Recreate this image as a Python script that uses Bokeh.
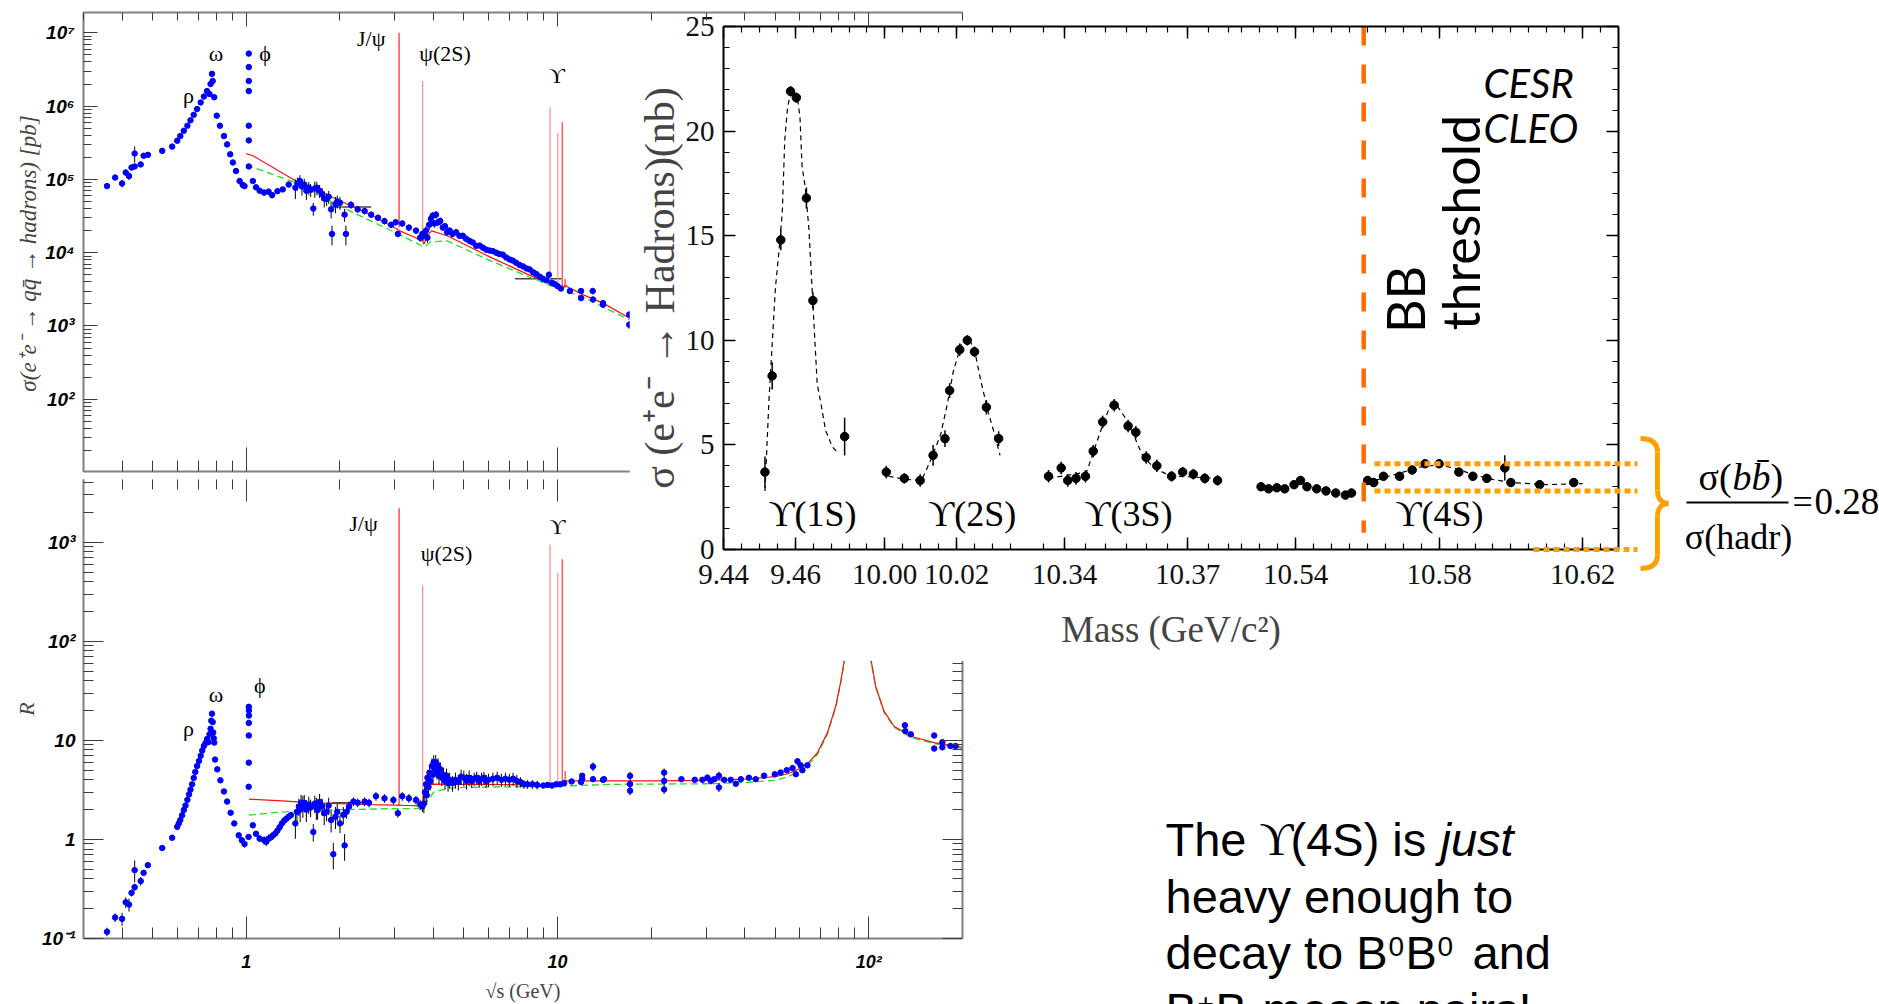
import math
from bokeh.plotting import figure
from bokeh.models import Range1d, FixedTicker, LogAxis, LinearAxis, BasicTickFormatter
from bokeh.layouts import column
from bokeh.embed import file_html
from bokeh.resources import INLINE
from bokeh.core.properties import value

SERIF = "Liberation Serif"
SANS = "Liberation Sans"

# =====================================================================
# DATA - bottom-left panel : R vs sqrt(s) [GeV]
# =====================================================================
R_LOW_X = [0.357, 0.379, 0.399, 0.41, 0.42, 0.428, 0.438, 0.438, 0.458, 0.468, 0.483,
           0.537, 0.578, 0.60, 0.607, 0.614, 0.622, 0.63, 0.638, 0.647, 0.655, 0.662,
           0.67, 0.678, 0.686, 0.695, 0.705, 0.714, 0.722, 0.731, 0.74, 0.748, 0.755,
           0.762, 0.768, 0.772, 0.776, 0.78, 0.783, 0.786, 0.789, 0.794, 0.807, 0.826,
           0.848, 0.868, 0.891, 0.915, 0.946, 0.968, 0.987]
R_LOW_Y = [0.117, 0.163, 0.158, 0.232, 0.22, 0.289, 0.33, 0.49, 0.38, 0.46, 0.55,
           0.82, 1.04, 1.34, 1.45, 1.57, 1.75, 1.98, 2.2, 2.51, 2.85, 3.18,
           3.6, 4.18, 4.8, 5.5, 6.2, 7.0, 7.9, 8.8, 9.4, 10.3, 9.6,
           11.5, 13.1, 15.8, 18.6, 15.3, 12.0, 10.5, 9.5, 6.4, 5.1, 3.95,
           3.05, 2.41, 1.86, 1.45, 1.1, 0.98, 0.90]
R_LOW_ERR = [0.1, 0.1, 0.15, 0.12, 0.15, 0.08, 0.08, 0.25, 0.1, 0.06, 0.06,
             0.03, 0.03, 0.03, 0.02, 0.02, 0.02, 0.02, 0.02, 0.02, 0.02, 0.02,
             0.02, 0.02, 0.02, 0.02, 0.02, 0.02, 0.02, 0.02, 0.02, 0.02, 0.02,
             0.02, 0.02, 0.02, 0.02, 0.02, 0.02, 0.02, 0.02, 0.03, 0.03, 0.03,
             0.03, 0.03, 0.03, 0.04, 0.05, 0.06, 0.08]

R_PHI_X = [1.017, 1.018, 1.019, 1.019, 1.019, 1.02, 1.019, 1.02]
R_PHI_Y = [1.06, 3.4, 5.96, 11.2, 15.0, 17.8, 21.8, 20.0]

R_MID_X = [1.05, 1.075, 1.104, 1.141, 1.16, 1.18, 1.2, 1.219, 1.24, 1.26,
           1.28, 1.302, 1.325, 1.346, 1.37, 1.391, 1.438, 1.455, 1.476, 1.49,
           1.5, 1.52, 1.536, 1.56, 1.588, 1.61, 1.642, 1.66, 1.68, 1.696,
           1.72, 1.753, 1.78, 1.812, 1.84, 1.873, 1.904, 1.935, 1.96, 2.0,
           2.05, 2.07, 2.1, 2.14, 2.21, 2.28, 2.4, 2.48, 2.61, 2.78,
           2.97, 3.07, 3.17, 3.33, 3.51, 3.62, 3.68]
R_MID_Y = [1.39, 1.14, 1.02, 0.98, 0.95, 1.02, 1.05, 1.1, 1.15, 1.23,
           1.33, 1.45, 1.55, 1.62, 1.7, 1.76, 1.45, 1.9, 2.15, 2.0,
           2.35, 2.2, 2.34, 2.0, 2.25, 2.1, 1.19, 2.3, 2.1, 1.98,
           2.4, 2.15, 1.85, 1.91, 2.2, 1.57, 0.71, 1.70, 1.9, 1.45,
           1.77, 0.87, 1.9, 2.15, 2.41, 2.35, 2.41, 2.34, 2.73, 2.6,
           2.5, 1.84, 2.73, 2.6, 2.5, 2.25, 2.15]
R_MID_ERR = [0.05, 0.05, 0.08, 0.1, 0.1, 0.1, 0.08, 0.08, 0.08, 0.08,
             0.08, 0.08, 0.08, 0.08, 0.08, 0.08, 0.3, 0.2, 0.2, 0.25,
             0.2, 0.25, 0.2, 0.25, 0.2, 0.2, 0.2, 0.2, 0.25, 0.2,
             0.2, 0.2, 0.25, 0.2, 0.2, 0.25, 0.3, 0.25, 0.2, 0.2,
             0.2, 0.3, 0.15, 0.12, 0.1, 0.1, 0.1, 0.1, 0.1, 0.1,
             0.1, 0.1, 0.1, 0.1, 0.1, 0.12, 0.12]

R_CC_X = [3.72, 3.75, 3.78, 3.80, 3.82, 3.85, 3.88, 3.90, 3.95, 3.98,
          4.00, 4.03, 4.06, 4.10, 4.13, 4.16, 4.20, 4.25, 4.30, 4.35,
          4.40, 4.45, 4.50, 4.60, 4.70, 4.80, 4.90, 5.00, 5.10, 5.20,
          5.30, 5.40, 5.50, 5.60, 5.70, 5.80, 5.90, 6.00, 6.20, 6.40,
          6.60, 6.80, 7.00, 7.20, 7.40, 7.60, 7.80, 8.00, 8.30, 8.60,
          9.00, 9.30, 9.60, 9.90, 10.2, 10.5]
R_CC_Y = [2.3, 3.0, 3.6, 2.8, 4.2, 3.4, 4.7, 3.9, 5.5, 4.5,
          6.0, 5.2, 6.0, 4.9, 5.6, 4.4, 5.1, 4.2, 4.5, 3.9,
          4.4, 3.7, 4.0, 3.7, 4.0, 3.8, 4.3, 4.2, 3.9, 4.2,
          3.9, 4.1, 4.2, 3.9, 4.1, 4.2, 3.9, 4.0, 4.1, 4.2,
          4.0, 4.1, 4.0, 4.1, 3.9, 3.8, 3.6, 3.6, 3.6, 3.55,
          3.5, 3.55, 3.5, 3.6, 3.6, 3.7]
R_CC_ERR = [0.2, 0.2, 0.2, 0.2, 0.2, 0.2, 0.2, 0.2, 0.2, 0.2,
            0.18, 0.18, 0.18, 0.18, 0.18, 0.18, 0.18, 0.18, 0.18, 0.18,
            0.18, 0.18, 0.18, 0.18, 0.18, 0.18, 0.18, 0.18, 0.18, 0.18,
            0.15, 0.15, 0.15, 0.15, 0.15, 0.15, 0.15, 0.15, 0.15, 0.15,
            0.15, 0.15, 0.15, 0.15, 0.15, 0.12, 0.1, 0.1, 0.1, 0.1,
            0.05, 0.05, 0.05, 0.05, 0.05, 0.05]

R_HI_X = [11.1, 11.9, 12.0, 12.0, 13.0, 13.0, 14.0, 14.1, 17.1, 17.1,
          17.1, 22.0, 22.0, 22.0, 25.0, 27.6, 29.2, 30.3, 31.1, 31.9,
          33.0, 33.0, 34.3, 36.0, 37.4, 38.8, 41.2, 43.3, 46.1, 49.9,
          52.1, 54.5, 56.9, 58.3, 59.0, 60.4, 61.2, 63.5, 130.6, 131.0,
          136.5, 162.2, 162.2, 172.3, 172.3, 183.0, 190.0]
R_HI_Y = [3.85, 3.8, 4.06, 4.4, 5.44, 4.06, 4.0, 4.06, 4.38, 3.62,
          3.1, 4.73, 3.9, 3.2, 4.06, 4.0, 4.0, 4.2, 3.9, 4.06,
          4.4, 3.35, 4.0, 4.0, 3.65, 4.06, 4.2, 4.06, 4.4, 4.55,
          4.73, 5.0, 5.25, 4.55, 6.15, 5.6, 5.0, 5.6, 14.2, 12.4,
          11.5, 11.2, 8.27, 9.6, 8.5, 8.77, 8.77]
R_HI_ERR = [0.05, 0.05, 0.05, 0.05, 0.1, 0.05, 0.05, 0.05, 0.1, 0.1,
            0.1, 0.1, 0.1, 0.1, 0.05, 0.05, 0.05, 0.08, 0.08, 0.05,
            0.1, 0.1, 0.05, 0.05, 0.05, 0.05, 0.05, 0.05, 0.05, 0.05,
            0.05, 0.05, 0.05, 0.05, 0.08, 0.05, 0.05, 0.05, 0.05, 0.05,
            0.05, 0.05, 0.05, 0.05, 0.05, 0.05, 0.05]

R_RED_X = [1.02, 1.3, 1.6, 2.0, 2.5, 3.0, 3.3, 3.6, 3.68, 3.70, 3.75, 3.8, 4.0, 5.0,
           7.0, 9.0, 10.4, 10.55, 11.0, 15.0, 20.0, 30.0, 40.0, 50.0, 55.0, 60.0,
           63.5, 68.4, 73.6, 78.3, 81.3, 84.0, 87.0, 91.2, 95.0, 101.0, 105.2,
           111.9, 120.5, 136.5, 162.0, 200.0]
R_RED_Y = [2.55, 2.45, 2.35, 2.3, 2.25, 2.22, 2.2, 2.18, 2.15, 2.6, 3.4, 3.6, 3.62, 3.6,
           3.58, 3.55, 3.55, 3.9, 3.9, 3.9, 3.9, 3.95, 4.06, 4.3, 4.6, 5.2,
           5.8, 7.5, 11.9, 22.1, 39.5, 73.0, 300.0, 4000.0, 300.0, 73.0, 35.2,
           19.7, 13.9, 11.0, 9.5, 8.5]
R_GREEN_X = [1.02, 1.2, 1.5, 2.0, 2.5, 3.0, 3.5, 3.7, 3.8, 4.0, 4.5, 5.0, 7.0, 10.0,
             15.0, 20.0, 30.0, 40.0, 50.0, 55.0, 60.0, 63.5, 68.4, 73.6, 78.3,
             81.3, 84.0, 87.0, 91.2, 95.0, 101.0, 105.2, 111.9, 120.5, 136.5,
             162.0, 200.0]
R_GREEN_Y = [1.76, 1.85, 1.95, 2.0, 2.02, 2.05, 2.05, 2.1, 2.4, 3.0, 3.3, 3.35, 3.4, 3.45,
             3.6, 3.62, 3.65, 3.75, 3.95, 4.3, 4.9, 5.5, 7.2, 11.5, 21.5,
             38.5, 71.0, 290.0, 3900.0, 290.0, 71.0, 34.5, 19.2, 13.6, 10.7,
             9.3, 8.3]
R_BIN_X0 = [1.88]
R_BIN_X1 = [2.52]
R_BIN_Y = [2.35]

# =====================================================================
# DATA - top-left panel : sigma(e+e- -> hadrons) [pb] vs sqrt(s)
# =====================================================================
S_LOW_X = [0.357, 0.379, 0.399, 0.41, 0.42, 0.428, 0.438, 0.438, 0.458, 0.468,
           0.483, 0.537, 0.578, 0.60, 0.614, 0.63, 0.647, 0.662, 0.678, 0.695,
           0.714, 0.731, 0.748, 0.762, 0.768, 0.776, 0.78, 0.789, 0.804, 0.823,
           0.848, 0.868, 0.888, 0.906, 0.927, 0.952, 0.974, 0.987]
S_LOW_Y = [8.1e4, 1.06e5, 8.8e4, 1.24e5, 1.11e5, 1.45e5, 1.5e5, 2.25e5, 1.6e5, 2.1e5,
           2.16e5, 2.45e5, 2.8e5, 3.36e5, 3.9e5, 4.6e5, 5.4e5, 6.4e5, 7.6e5, 9.1e5,
           1.12e6, 1.35e6, 1.6e6, 1.46e6, 2.0e6, 2.75e6, 2.2e6, 1.32e6, 7.4e5, 5.4e5,
           3.9e5, 3.0e5, 2.2e5, 1.7e5, 1.3e5, 9.5e4, 8.4e4, 8.1e4]
S_LOW_ERR = [0.08, 0.08, 0.12, 0.1, 0.12, 0.06, 0.06, 0.25, 0.08, 0.05,
             0.05, 0.03, 0.03, 0.03, 0.02, 0.02, 0.02, 0.02, 0.02, 0.02,
             0.02, 0.02, 0.02, 0.02, 0.02, 0.02, 0.02, 0.02, 0.03, 0.03,
             0.03, 0.03, 0.03, 0.03, 0.04, 0.05, 0.06, 0.08]

S_PHI_X = [1.019, 1.019, 1.019, 1.019, 1.019, 1.019, 1.019]
S_PHI_Y = [1.5e5, 3.4e5, 5.4e5, 1.6e6, 2.2e6, 3.4e6, 5.2e6]

S_MID_X = [1.05, 1.075, 1.104, 1.141, 1.18, 1.211, 1.26, 1.31, 1.369, 1.438,
           1.46, 1.487, 1.51, 1.536, 1.56, 1.588, 1.61, 1.642, 1.66, 1.685,
           1.72, 1.753, 1.78, 1.812, 1.84, 1.873, 1.886, 1.935, 1.96, 2.0,
           2.07, 2.09, 2.17, 2.28, 2.40, 2.52, 2.65, 2.78, 2.92, 3.02,
           3.07, 3.17, 3.33, 3.51, 3.62, 3.68]
S_MID_Y = [9.5e4, 7.8e4, 7.0e4, 6.6e4, 6.8e4, 6.1e4, 6.9e4, 7.3e4, 8.5e4, 7.7e4,
           8.8e4, 9.5e4, 8.0e4, 8.5e4, 7.0e4, 7.7e4, 7.2e4, 4.0e4, 7.5e4, 7.7e4,
           7.0e4, 6.3e4, 5.5e4, 5.4e4, 5.8e4, 3.9e4, 1.8e4, 4.6e4, 5.0e4, 4.8e4,
           3.3e4, 1.8e4, 4.5e4, 3.9e4, 3.7e4, 3.3e4, 3.0e4, 2.7e4, 2.4e4, 2.6e4,
           1.8e4, 2.5e4, 2.2e4, 2.0e4, 1.6e4, 1.8e4]
S_MID_ERR = [0.05, 0.05, 0.08, 0.1, 0.1, 0.1, 0.08, 0.08, 0.08, 0.3,
             0.2, 0.2, 0.25, 0.2, 0.25, 0.2, 0.2, 0.2, 0.25, 0.2,
             0.2, 0.2, 0.25, 0.2, 0.2, 0.25, 0.3, 0.25, 0.2, 0.2,
             0.2, 0.3, 0.12, 0.1, 0.1, 0.1, 0.1, 0.1, 0.1, 0.1,
             0.1, 0.1, 0.1, 0.1, 0.12, 0.12]

S_CC_X = [3.72, 3.78, 3.82, 3.87, 3.92, 3.97, 4.02, 4.07, 4.13, 4.20,
          4.28, 4.35, 4.42, 4.50, 4.60, 4.72, 4.84, 4.96, 5.08, 5.21,
          5.34, 5.48, 5.62, 5.76, 5.90, 6.05, 6.20, 6.35, 6.50, 6.67,
          6.84, 7.01, 7.18, 7.36, 7.55, 7.75, 7.95, 8.14, 8.35, 8.55,
          8.77, 8.98, 9.20, 9.38, 9.58, 9.78, 10.0, 10.25]
S_CC_Y = [1.7e4, 2.0e4, 1.6e4, 2.4e4, 2.9e4, 3.2e4, 2.5e4, 3.3e4, 2.6e4, 2.7e4,
          2.2e4, 2.3e4, 1.9e4, 2.0e4, 1.8e4, 1.9e4, 1.7e4, 1.7e4, 1.55e4, 1.45e4,
          1.38e4, 1.24e4, 1.25e4, 1.17e4, 1.1e4, 1.07e4, 1.05e4, 1.0e4, 9.6e3, 9.4e3,
          8.6e3, 8.1e3, 7.8e3, 7.3e3, 6.8e3, 6.5e3, 6.1e3, 5.9e3, 5.4e3, 5.1e3,
          4.7e3, 4.4e3, 4.2e3, 5.0e3, 3.9e3, 3.75e3, 3.5e3, 3.24e3]
S_CC_ERR = [0.15, 0.15, 0.15, 0.15, 0.12, 0.12, 0.12, 0.12, 0.12, 0.12,
            0.1, 0.1, 0.1, 0.1, 0.1, 0.1, 0.1, 0.1, 0.1, 0.1,
            0.08, 0.08, 0.08, 0.08, 0.08, 0.08, 0.08, 0.08, 0.08, 0.08,
            0.06, 0.06, 0.06, 0.06, 0.06, 0.06, 0.06, 0.06, 0.06, 0.06,
            0.05, 0.05, 0.05, 0.1, 0.05, 0.05, 0.05, 0.05]

S_HI_X = [10.96, 11.9, 11.9, 12.97, 13.0, 14.0, 14.0, 17.0, 17.0]
S_HI_Y = [3.0e3, 2.4e3, 3.0e3, 3.0e3, 2.3e3, 1.95e3, 2.05e3, 1.43e3, 1.04e3]
S_HI_ERR = [0.05, 0.05, 0.05, 0.1, 0.05, 0.05, 0.05, 0.1, 0.12]

S_RED_X = [1.0, 1.05, 1.44, 2.0, 2.5, 3.02, 3.1, 3.5, 3.68, 3.72, 3.85, 3.94, 4.42,
           6.15, 8.0, 9.9, 10.4, 10.55, 12.0, 14.0, 17.4]
S_RED_Y = [2.25e5, 2.1e5, 9.6e4, 5.1e4, 3.3e4, 2.15e4, 2.0e4, 1.6e4, 1.45e4, 1.3e4,
           1.78e4, 1.98e4, 1.7e4, 8.5e3, 5.1e3, 3.5e3, 3.25e3, 3.6e3, 2.7e3, 2.05e3, 1.22e3]
S_GREEN_X = [1.0, 1.44, 2.0, 3.0, 3.68, 3.75, 3.9, 4.42, 6.15, 9.9, 12.0, 17.4]
S_GREEN_Y = [1.58e5, 9.0e4, 4.3e4, 1.9e4, 1.23e4, 1.2e4, 1.4e4, 1.45e4, 7.6e3, 3.3e3,
             2.5e3, 1.16e3]
S_BIN_X0 = [1.88, 7.3]
S_BIN_X1 = [2.52, 10.3]
S_BIN_Y = [4.2e4, 4.4e3]

# narrow resonances (thin red lines)
RES_MASS = [3.097, 3.686, 9.460, 10.023, 10.355, 10.580]
RES_R_LO = [2.2, 2.15, 3.55, 3.55, 3.55, 3.7]
RES_R_HI = [2200.0, 369.0, 946.0, 493.0, 674.0, 4.9]
RES_S_LO = [2.2e4, 1.45e4, 3.8e3, 3.6e3, 3.4e3, 3.3e3]
RES_S_HI = [1.0e7, 2.2e6, 9.6e5, 4.3e5, 6.0e5, 4.4e3]
RES_COLORS = ["#ff2020", "#ff8a8a", "#ff8a8a", "#ff8a8a", "#ff3a3a", "#ff3a3a"]

# particle labels
S_LABEL_TXT = ["ρ", "ω", "ϕ", "J/ψ", "ψ(2S)", "ϒ"]
S_LABEL_X = [0.652, 0.80, 1.15, 2.52, 4.35, 9.95]
S_LABEL_Y = [1.4e6, 5.2e6, 5.2e6, 8.4e6, 5.2e6, 2.6e6]
R_LABEL_X = [0.652, 0.80, 1.105, 2.38, 4.4, 10.0]
R_LABEL_Y = [13.2, 29.0, 35.7, 1550.0, 776.0, 1450.0]

# =====================================================================
# DATA - right panel : sigma(e+e- -> hadrons) [nb] vs mass (CESR / CLEO)
# =====================================================================
U1_M = [9.4515, 9.4535, 9.4559, 9.4586, 9.4602, 9.4630, 9.4648, 9.4736]
U1_S = [3.7, 8.3, 14.8, 21.9, 21.6, 16.8, 11.9, 5.4]
U1_E = [0.75, 0.65, 0.5, 0.25, 0.25, 0.5, 0.4, 0.9]
U2_M = [10.0005, 10.0055, 10.0099, 10.0135, 10.0168, 10.0181, 10.0209, 10.0230,
        10.0250, 10.0283, 10.0317]
U2_S = [3.7, 3.4, 3.3, 4.5, 5.3, 7.6, 9.55, 10.0, 9.45, 6.8, 5.3]
U2_E = [0.3, 0.25, 0.3, 0.5, 0.4, 0.35, 0.3, 0.25, 0.25, 0.35, 0.35]
U3_M = [10.3361, 10.3392, 10.3408, 10.3428, 10.3451, 10.3470, 10.3493, 10.3521,
        10.3555, 10.3574, 10.3599, 10.3625, 10.3661, 10.3688, 10.3714, 10.3742, 10.3773]
U3_S = [3.5, 3.9, 3.3, 3.4, 3.5, 4.7, 6.1, 6.9, 5.9, 5.6, 4.4, 4.0, 3.5, 3.7, 3.6, 3.4, 3.3]
U3_E = [0.3, 0.3, 0.3, 0.3, 0.3, 0.3, 0.3, 0.3, 0.3, 0.3, 0.3, 0.3, 0.25, 0.25, 0.25, 0.25, 0.25]
U4_M = [10.5304, 10.5325, 10.5348, 10.5370, 10.5396, 10.5414, 10.5432, 10.5459, 10.5485,
        10.5512, 10.5539, 10.5556, 10.5601, 10.5618, 10.5645, 10.5690, 10.5725, 10.5761,
        10.5800, 10.5855, 10.5894, 10.5933, 10.5983, 10.6000, 10.6080, 10.6175]
U4_S = [3.0, 2.9, 2.95, 2.9, 3.1, 3.3, 3.0, 2.9, 2.8, 2.7, 2.6, 2.7, 3.3, 3.2, 3.5, 3.5,
        3.8, 4.1, 4.1, 3.7, 3.5, 3.4, 3.9, 3.2, 3.1, 3.2]
U4_E = [0.15, 0.15, 0.15, 0.15, 0.15, 0.2, 0.15, 0.15, 0.2, 0.2, 0.2, 0.2, 0.2, 0.2,
        0.2, 0.2, 0.2, 0.2, 0.2, 0.2, 0.2, 0.2, 0.6, 0.2, 0.2, 0.2]

F1_M = [9.4515, 9.4526, 9.4535, 9.4544, 9.4553, 9.4563, 9.4570, 9.4577, 9.4586, 9.4604,
        9.4612, 9.4618, 9.4627, 9.4637, 9.4650, 9.4660, 9.4669, 9.4683, 9.4702, 9.4715,
        9.4723]
F1_S = [2.8, 7.1, 9.8, 12.5, 14.1, 16.1, 19.6, 21.0, 21.95, 21.7, 20.7, 18.3, 17.3, 15.3,
        11.1, 7.9, 7.1, 5.7, 4.9, 4.66, 4.66]
F2_M = [10.0011, 10.0060, 10.0103, 10.0129, 10.0156, 10.0174, 10.0191, 10.0214, 10.0232,
        10.0250, 10.0267, 10.0289, 10.0306, 10.0321]
F2_S = [3.5, 3.35, 3.3, 4.3, 5.5, 6.9, 8.5, 9.85, 10.15, 9.55, 8.1, 6.5, 5.5, 4.5]
F3_M = [10.3361, 10.3454, 10.3478, 10.3496, 10.3512, 10.3527, 10.3548, 10.3568, 10.3590,
        10.3618, 10.3649, 10.3680, 10.3773]
F3_S = [3.4, 3.7, 5.1, 6.1, 6.9, 6.9, 6.3, 5.5, 4.5, 3.9, 3.6, 3.5, 3.4]
F4_M = [10.5601, 10.5650, 10.5700, 10.5750, 10.5800, 10.5850, 10.5900, 10.5950, 10.6000,
        10.6100, 10.6200]
F4_S = [3.2, 3.45, 3.7, 3.95, 4.05, 3.85, 3.55, 3.35, 3.2, 3.1, 3.15]

BB_THRESHOLD = 10.559
RATIO_LEVELS = [4.1, 2.8, 0.0]          # the three dotted guide levels (nb)
X_TICK_MASSES = [9.44, 9.46, 10.00, 10.02, 10.34, 10.37, 10.54, 10.58, 10.62]
X_TICK_LABELS = ["9.44", "9.46", "10.00", "10.02", "10.34", "10.37", "10.54", "10.58", "10.62"]
UPS_LABELS = ["ϒ(1S)", "ϒ(2S)", "ϒ(3S)", "ϒ(4S)"]
UPS_LABEL_M = [9.4647, 10.0244, 10.3556, 10.5801]

# broken mass axis: (mass_lo, mass_hi, mass_ref, u_ref, px_per_GeV), u in axis units
SEGMENTS = [(9.40, 9.70, 9.44, 0.0, 3605.0),
            (9.90, 10.20, 10.00, 161.0, 3600.0),
            (10.30, 10.45, 10.34, 341.0, 4103.0),
            (10.50, 10.70, 10.54, 572.0, 3590.0)]
U_BREAKS = [0.0, 142.0, 300.0, 515.0, 895.0]


def m2u(m):
    for lo, hi, mref, uref, k in SEGMENTS:
        if lo <= m <= hi:
            return uref + (m - mref) * k
    raise ValueError(m)


# =====================================================================
# helpers
# =====================================================================
def place(fig, left, top):
    fig.styles = {"position": "absolute", "left": f"{left}px", "top": f"{top}px"}


def log_minors(e_lo, e_hi):
    return [m * 10.0 ** k for k in range(e_lo, e_hi + 1) for m in range(2, 10)]


def setup_axis(ax, majors, minors, tin, tmin, labels=None, line_color="#808080",
               line_width=2, tick_color="#3c3c3c", font=SANS, size="17px",
               style="bold italic", standoff=8):
    ax.ticker = FixedTicker(ticks=majors, minor_ticks=minors)
    ax.formatter = BasicTickFormatter()
    ax.major_tick_in = tin
    ax.major_tick_out = 0
    ax.minor_tick_in = tmin
    ax.minor_tick_out = 0
    ax.major_tick_line_color = tick_color
    ax.minor_tick_line_color = tick_color
    ax.axis_line_color = line_color
    ax.axis_line_width = line_width
    if labels is None:
        ax.major_label_overrides = {t: "" for t in majors}
        ax.major_label_text_font_size = "0px"
        ax.major_label_standoff = 0
    else:
        ax.major_label_overrides = labels
        ax.major_label_text_font = font
        ax.major_label_text_font_size = size
        ax.major_label_text_font_style = style
        ax.major_label_text_color = "black"
        ax.major_label_standoff = standoff


def log_errbars(fig, xs, ys, es, color="black"):
    x0, y0, y1 = [], [], []
    for x, y, e in zip(xs, ys, es):
        x0.append(x)
        y0.append(y * (1 - e))
        y1.append(y * (1 + e))
    fig.segment(x0=x0, y0=y0, x1=x0, y1=y1, line_color=color, line_width=1)


def lin_errbars(fig, xs, ys, es, color="black"):
    x0, y0, y1 = [], [], []
    for x, y, e in zip(xs, ys, es):
        x0.append(x)
        y0.append(y - e)
        y1.append(y + e)
    fig.segment(x0=x0, y0=y0, x1=x0, y1=y1, line_color=color, line_width=1.5)


def txt(fig, x, y, s, font=SANS, size=47, style="normal", align="left",
        color="black", angle=0.0):
    # y (or x for rotated text) is the vertical middle of the em box
    fig.text(x=[x], y=[y], text=[s], text_font=value(font), text_font_size=f"{size}px",
             text_font_style=style, text_align=align, text_baseline="middle",
             text_color=color, angle=angle)


def ptxt(x, base, s, size, font=SANS, style="normal", align="left"):
    # page overlay text placed by its baseline (page pixels, y downwards)
    txt(D, x, base - 0.345 * size, s, font=font, size=size, style=style, align=align)


X_MAJ = [1.0, 10.0, 100.0]
X_MIN = log_minors(-1, 2)
COMMON = dict(output_backend="svg", toolbar_location=None, frame_align=False)

# =====================================================================
# A : bottom-left, R
# =====================================================================
A = figure(width=980, height=534, x_axis_type="log", y_axis_type="log",
           x_range=Range1d(0.3, 200), y_range=Range1d(0.1, 4300),
           min_border_left=83, min_border_right=18, min_border_top=9, min_border_bottom=64,
           background_fill_color="white", border_fill_alpha=0, outline_line_color=None,
           **COMMON)
A.grid.visible = False
setup_axis(A.xaxis[0], X_MAJ, X_MIN, 22, 11,
           labels={1.0: "1", 10.0: "10", 100.0: "10²"}, standoff=13, size="18px")
A.xaxis[0].axis_label = "√s (GeV)"
A.xaxis[0].axis_label_text_font = SERIF
A.xaxis[0].axis_label_text_font_size = "20px"
A.xaxis[0].axis_label_text_font_style = "normal"
A.xaxis[0].axis_label_standoff = 5
R_MAJ = [0.1, 1.0, 10.0, 100.0, 1000.0]
setup_axis(A.yaxis[0], R_MAJ, log_minors(-1, 3), 20, 10,
           labels={0.1: "10⁻¹", 1.0: "1", 10.0: "10", 100.0: "10²", 1000.0: "10³"},
           standoff=8, size="19px")
A.yaxis[0].axis_label = "R"
A.yaxis[0].axis_label_text_font = SERIF
A.yaxis[0].axis_label_text_font_size = "22px"
A.yaxis[0].axis_label_text_font_style = "italic"
A.yaxis[0].axis_label_standoff = 0
a_top = LogAxis()
setup_axis(a_top, X_MAJ, X_MIN, 22, 10, line_color=None)
A.add_layout(a_top, "above")
a_right = LogAxis()
setup_axis(a_right, R_MAJ, log_minors(-1, 3), 20, 10)
A.add_layout(a_right, "right")

A.segment(x0=R_BIN_X0, x1=R_BIN_X1, y0=R_BIN_Y, y1=R_BIN_Y, line_color="#444444", line_width=1.5)
A.segment(x0=RES_MASS, x1=RES_MASS, y0=RES_R_LO, y1=RES_R_HI, line_color=RES_COLORS, line_width=1.2)
A.line(R_GREEN_X, R_GREEN_Y, line_color="#22dd22", line_width=1.3, line_dash="7 4")
A.line(R_RED_X, R_RED_Y, line_color="#ff1010", line_width=1.2)
for xs, ys, es in [(R_LOW_X, R_LOW_Y, R_LOW_ERR), (R_MID_X, R_MID_Y, R_MID_ERR),
                   (R_CC_X, R_CC_Y, R_CC_ERR), (R_HI_X, R_HI_Y, R_HI_ERR)]:
    log_errbars(A, xs, ys, es)
for xs, ys in [(R_LOW_X, R_LOW_Y), (R_PHI_X, R_PHI_Y), (R_MID_X, R_MID_Y),
               (R_CC_X, R_CC_Y), (R_HI_X, R_HI_Y)]:
    A.scatter(xs, ys, size=5.5, color="#0000ff")
A.text(x=R_LABEL_X, y=R_LABEL_Y, text=S_LABEL_TXT, text_font=value(SERIF),
       text_font_size="22px", text_align="center", text_baseline="middle")

# =====================================================================
# B : top-left, sigma [pb]
# =====================================================================
B = figure(width=980, height=476, x_axis_type="log", y_axis_type="log",
           x_range=Range1d(0.3, 200), y_range=Range1d(10.35, 1.89e7),
           min_border_left=83, min_border_right=18, min_border_top=12, min_border_bottom=5,
           background_fill_alpha=0, border_fill_alpha=0, outline_line_color=None,
           **COMMON)
B.grid.visible = False
setup_axis(B.xaxis[0], X_MAJ, X_MIN, 24, 11)
S_MAJ = [100.0, 1000.0, 1e4, 1e5, 1e6, 1e7]
setup_axis(B.yaxis[0], S_MAJ, log_minors(1, 7), 14, 8,
           labels={100.0: "10²", 1000.0: "10³", 1e4: "10⁴", 1e5: "10⁵",
                   1e6: "10⁶", 1e7: "10⁷"}, standoff=9, size="19px")
B.yaxis[0].axis_label = "σ(e⁺e⁻ → qq̄  →  hadrons)   [pb]"
B.yaxis[0].axis_label_text_font = SERIF
B.yaxis[0].axis_label_text_font_size = "23px"
B.yaxis[0].axis_label_text_font_style = "italic"
B.yaxis[0].axis_label_standoff = 1

B.segment(x0=S_BIN_X0, x1=S_BIN_X1, y0=S_BIN_Y, y1=S_BIN_Y, line_color="#444444", line_width=1.5)
B.segment(x0=RES_MASS, x1=RES_MASS, y0=RES_S_LO, y1=RES_S_HI, line_color=RES_COLORS, line_width=1.2)
B.line(S_GREEN_X, S_GREEN_Y, line_color="#22dd22", line_width=1.3, line_dash="7 4")
B.line(S_RED_X, S_RED_Y, line_color="#ff1010", line_width=1.2)
for xs, ys, es in [(S_LOW_X, S_LOW_Y, S_LOW_ERR), (S_MID_X, S_MID_Y, S_MID_ERR),
                   (S_CC_X, S_CC_Y, S_CC_ERR), (S_HI_X, S_HI_Y, S_HI_ERR)]:
    log_errbars(B, xs, ys, es)
for xs, ys in [(S_LOW_X, S_LOW_Y), (S_PHI_X, S_PHI_Y), (S_MID_X, S_MID_Y),
               (S_CC_X, S_CC_Y), (S_HI_X, S_HI_Y)]:
    B.scatter(xs, ys, size=5.5, color="#0000ff")
B.text(x=S_LABEL_X, y=S_LABEL_Y, text=S_LABEL_TXT, text_font=value(SERIF),
       text_font_size="22px", text_align="center", text_baseline="middle")

# T : the top frame edge of the sigma panel (drawn above the right panel, as on the slide)
T = figure(width=980, height=30, x_axis_type="log", x_range=Range1d(0.3, 200),
           y_range=Range1d(0, 1), x_axis_location="above", y_axis_location=None,
           min_border_left=83, min_border_right=18, min_border_top=12, min_border_bottom=0,
           background_fill_alpha=0, border_fill_alpha=0, outline_line_color=None,
           **COMMON)
T.grid.visible = False
setup_axis(T.xaxis[0], X_MAJ, X_MIN, 14, 8)

# =====================================================================
# C : right panel, Upsilon scan
# =====================================================================
C_LEFT, C_TOP, C_BL, C_BT, C_BB = 629, 4, 94, 22, 112
C = figure(width=C_BL + 895 + 14, height=C_BT + 523 + C_BB,
           x_range=Range1d(0, 895), y_range=Range1d(0, 25),
           min_border_left=C_BL, min_border_right=14, min_border_top=C_BT, min_border_bottom=C_BB,
           background_fill_color="white", border_fill_color="white", outline_line_color=None,
           **COMMON)
C.grid.visible = False

x_majors = [m2u(m) for m in X_TICK_MASSES]
x_minors = []
for i, (lo, hi, mref, uref, k) in enumerate(SEGMENTS):
    ma = mref + (U_BREAKS[i] - uref) / k
    mb = mref + (U_BREAKS[i + 1] - uref) / k
    n0 = math.ceil(ma / 0.005 + 1e-6)
    n1 = math.floor(mb / 0.005 - 1e-6)
    for n in range(n0, n1 + 1):
        x_minors.append(m2u(n * 0.005))
y_majors = [0, 5, 10, 15, 20, 25]
y_minors = [v for v in range(0, 26)]


def setup_lin(ax, majors, minors, labels=None, standoff=12):
    ax.ticker = FixedTicker(ticks=majors, minor_ticks=minors)
    ax.major_tick_in = 12
    ax.major_tick_out = 0
    ax.minor_tick_in = 6
    ax.minor_tick_out = 0
    ax.major_tick_line_color = "black"
    ax.minor_tick_line_color = "black"
    ax.major_tick_line_width = 1.5
    ax.minor_tick_line_width = 1.2
    ax.axis_line_color = "black"
    ax.axis_line_width = 2
    if labels is None:
        ax.major_label_overrides = {t: "" for t in majors}
        ax.major_label_text_font_size = "0px"
        ax.major_label_standoff = 0
    else:
        ax.major_label_overrides = labels
        ax.major_label_text_font = SERIF
        ax.major_label_text_font_size = "29px"
        ax.major_label_text_color = "#111111"
        ax.major_label_standoff = standoff


setup_lin(C.xaxis[0], x_majors, x_minors,
          labels={u: s for u, s in zip(x_majors, X_TICK_LABELS)}, standoff=15)
C.xaxis[0].axis_label = "Mass (GeV/c²)"
C.xaxis[0].axis_label_text_font = SERIF
C.xaxis[0].axis_label_text_font_size = "37px"
C.xaxis[0].axis_label_text_font_style = "normal"
C.xaxis[0].axis_label_standoff = 22
setup_lin(C.yaxis[0], y_majors, y_minors,
          labels={v: str(v) for v in y_majors}, standoff=9)
C.yaxis[0].axis_label = "σ (e⁺e⁻ → Hadrons)(nb)"
C.yaxis[0].axis_label_text_font = SERIF
C.yaxis[0].axis_label_text_font_size = "42px"
C.yaxis[0].axis_label_text_font_style = "normal"
C.yaxis[0].axis_label_standoff = 0
c_top = LinearAxis()
setup_lin(c_top, x_majors, x_minors)
C.add_layout(c_top, "above")
c_right = LinearAxis()
setup_lin(c_right, y_majors, y_minors)
C.add_layout(c_right, "right")

for fm, fs in [(F1_M, F1_S), (F2_M, F2_S), (F3_M, F3_S), (F4_M, F4_S)]:
    C.line([m2u(m) for m in fm], fs, line_color="black", line_width=1.2, line_dash="5 4")
for um, us, ue in [(U1_M, U1_S, U1_E), (U2_M, U2_S, U2_E), (U3_M, U3_S, U3_E), (U4_M, U4_S, U4_E)]:
    ux = [m2u(m) for m in um]
    lin_errbars(C, ux, us, ue)
    C.scatter(ux, us, size=8.5, color="black")
C.segment(x0=[m2u(BB_THRESHOLD)], x1=[m2u(BB_THRESHOLD)], y0=[25], y1=[0.8],
          line_color="#ff6a00", line_width=4.5, line_dash="19 19")
C.text(x=[m2u(m) for m in UPS_LABEL_M], y=[1.68, 1.68, 1.68, 1.68], text=UPS_LABELS,
       text_font=value(SERIF), text_font_size="36px", text_align="center",
       text_baseline="middle")
# annotation texts (positions on the panel's own axes)
txt(C, m2u(10.5706), 11.95, "BB", font="Lato", size=52, align="center", angle=math.pi / 2)
txt(C, m2u(10.5857), 15.63, "threshold", font="Lato", size=52, align="center", angle=math.pi / 2)
txt(C, m2u(10.5924), 22.3, "CESR", font="Lato", size=40, style="italic")
txt(C, m2u(10.5924), 20.15, "CLEO", font="Lato", size=40, style="italic")

# =====================================================================
# E : orange dotted guide levels (same vertical scale as C)
# =====================================================================
E = figure(width=330, height=600, x_range=Range1d(637, 967),
           y_range=Range1d(25 - (600 - 9) * 25 / 523, 25),
           x_axis_location=None, y_axis_location=None,
           min_border_left=0, min_border_right=0, min_border_top=9, min_border_bottom=0,
           background_fill_alpha=0, border_fill_alpha=0, outline_line_color=None,
           **COMMON)
E.grid.visible = False
E.segment(x0=[651, 651, 810], x1=[914, 914, 914], y0=RATIO_LEVELS, y1=RATIO_LEVELS,
          line_color="#ffa000", line_width=5, line_dash="6 4")

# =====================================================================
# D : page overlay (text, brace, formula)
# =====================================================================
D = figure(width=1879, height=1004, x_range=Range1d(0, 1879), y_range=Range1d(1004, 0),
           x_axis_location=None, y_axis_location=None,
           min_border_left=0, min_border_right=0, min_border_top=0, min_border_bottom=0,
           background_fill_alpha=0, border_fill_alpha=0, outline_line_color=None,
           **COMMON)
D.grid.visible = False

ORANGE = "#ffa000"
# curly brace
D.bezier(x0=[1640, 1657, 1668, 1657], y0=[438, 490, 503, 554],
         x1=[1657, 1668, 1657, 1640], y1=[452, 503, 516, 568],
         cx0=[1652, 1657, 1662, 1657], cy0=[438, 499, 503, 563],
         cx1=[1657, 1662, 1657, 1652], cy1=[443, 503, 507, 568],
         line_color=ORANGE, line_width=5)
D.segment(x0=[1657, 1657], y0=[452, 516], x1=[1657, 1657], y1=[490, 554],
          line_color=ORANGE, line_width=5)

# formula sigma(bb)/sigma(hadr) = 0.28
ptxt(1698, 490, "σ(", 38, font=SERIF)
ptxt(1732, 490, "bb̄", 38, font=SERIF, style="italic")
ptxt(1770, 490, ")", 38, font=SERIF)
D.segment(x0=[1686], y0=[502], x1=[1788], y1=[502], line_color="black", line_width=2)
ptxt(1738, 549, "σ(hadr)", 36, font=SERIF, align="center")
ptxt(1792, 514, "=", 36, font=SERIF)
ptxt(1814, 514, "0.28", 37, font=SERIF)

# paragraph
ptxt(1165, 855, "The", 47)
ptxt(1259, 855, "ϒ", 47, font=SERIF)
ptxt(1290, 855, "(4S) is", 47)
ptxt(1440, 855, "just", 47, style="italic")
ptxt(1165, 912, "heavy enough to", 47)
ptxt(1165, 968, "decay to B", 47)
txt(D, 1388, 946, "0", size=28)
ptxt(1405, 968, "B", 47)
txt(D, 1437, 946, "0", size=28)
ptxt(1472, 968, "and", 47)
ptxt(1165, 1025, "B", 47)
txt(D, 1197, 1003, "+", size=28)
ptxt(1215, 1025, "B", 47)
txt(D, 1247, 1003, "-", size=28)
ptxt(1262, 1025, "meson pairs!", 47)

# =====================================================================
# layout (absolute placement so the panels overlap like the slide)
# =====================================================================
place(A, 0, 470)
place(B, 0, 0)
place(C, C_LEFT, C_TOP)
place(E, 1360, 17)
place(T, 0, 0)
place(D, 0, 0)

p = column(A, B, C, E, T, D)
p.styles = {"position": "relative", "width": "1879px", "height": "1004px"}

open("out.html", "w").write(file_html(p, INLINE))
